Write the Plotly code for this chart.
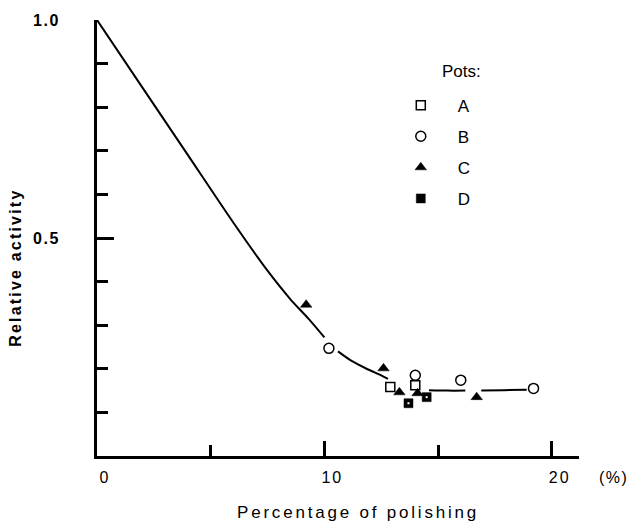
import plotly.graph_objects as go

# ---- data ----
pots_a_x = [12.9, 14.0]
pots_a_y = [0.158, 0.162]
pots_b_x = [10.2, 14.0, 16.0, 19.2]
pots_b_y = [0.247, 0.185, 0.174, 0.155]
pots_c_x = [9.2, 12.6, 13.3, 14.1, 16.7]
pots_c_y = [0.347, 0.201, 0.146, 0.144, 0.135]
pots_d_x = [13.7, 14.5]
pots_d_y = [0.121, 0.135]

# fitted curve (broken where it passes markers)
curve_x = [0, 2, 4, 6, 7.5, 8.5, 9.3, 10.0, None,
           10.6, 11.2, 11.9, 12.5, 12.8, None,
           14.6, 15.4, 16.2, None,
           16.9, 17.9, 18.9]
curve_y = [1.0, 0.845, 0.69, 0.535, 0.425, 0.36, 0.315, 0.272, None,
           0.240, 0.218, 0.199, 0.185, 0.177, None,
           0.151, 0.150, 0.150, None,
           0.150, 0.151, 0.152]

x_tickvals = [0, 10, 20]
x_ticktext = ["0", "10", "20"]
y_tickvals = [0.5, 1.0]
y_ticktext = ["0.5", "1.0"]

FONT = "Liberation Sans, Arial, Helvetica, sans-serif"

def spaced(t, px=1.5):
    return f"<span style='letter-spacing:{px}px'>{t}</span>"

fig = go.Figure()

fig.add_trace(go.Scatter(
    x=curve_x, y=curve_y, mode="lines", connectgaps=False,
    line=dict(color="black", width=2, shape="spline", smoothing=0.8),
    showlegend=False, hoverinfo="skip"))

fig.add_trace(go.Scatter(
    x=pots_a_x, y=pots_a_y, mode="markers", name="A", legendgroup="a",
    marker=dict(symbol="square", size=9, color="white",
                line=dict(color="black", width=1.5))))
fig.add_trace(go.Scatter(
    x=pots_b_x, y=pots_b_y, mode="markers", name="B", legendgroup="b",
    marker=dict(symbol="circle", size=10, color="white",
                line=dict(color="black", width=1.5))))
fig.add_trace(go.Scatter(
    x=pots_c_x, y=pots_c_y, mode="markers", name="C", legendgroup="c",
    marker=dict(symbol="triangle-up", size=10, color="black",
                line=dict(color="black", width=0.5))))
fig.add_trace(go.Scatter(
    x=pots_d_x, y=pots_d_y, mode="markers", name="D", legendgroup="d",
    marker=dict(symbol="square", size=9, color="black",
                line=dict(color="black", width=0.5))))
fig.add_trace(go.Scatter(
    x=pots_d_x, y=pots_d_y, mode="markers", showlegend=False,
    hoverinfo="skip",
    marker=dict(symbol="square", size=2, color="white")))

fig.update_layout(
    width=633, height=532,
    margin=dict(l=97, r=54, t=18, b=76),
    paper_bgcolor="white", plot_bgcolor="white",
    font=dict(family=FONT, color="black", size=16),
    showlegend=True,
    legend=dict(x=0.595, y=0.845, xanchor="left", yanchor="top",
                font=dict(size=17, family=FONT), itemwidth=64,
                tracegroupgap=6, bgcolor="rgba(0,0,0,0)",
                traceorder="grouped"),
    xaxis=dict(range=[0, 21.2], showgrid=False, zeroline=False,
               showline=True, linewidth=3, linecolor="black",
               ticks="inside", ticklen=15, tickwidth=2.5, tickcolor="black",
               tickmode="array", tickvals=x_tickvals,
               ticktext=[spaced(t, 2) for t in x_ticktext],
               tickfont=dict(size=16, family=FONT),
               ticklabelstandoff=5, ticklabelshift=8,
               minor=dict(tickmode="linear", tick0=0, dtick=5, ticks="inside",
                          ticklen=11, tickwidth=2.5, tickcolor="black")),
    yaxis=dict(range=[0, 1.0], showgrid=False, zeroline=False,
               showline=True, linewidth=3, linecolor="black",
               ticks="inside", ticklen=17, tickwidth=2.5, tickcolor="black",
               tickmode="array", tickvals=y_tickvals,
               ticktext=["<b>" + spaced(t, 1.5) + "</b>" for t in y_ticktext],
               tickfont=dict(size=16, family=FONT),
               ticklabelstandoff=31,
               minor=dict(tickmode="linear", tick0=0, dtick=0.1, ticks="inside",
                          ticklen=11, tickwidth=2.5, tickcolor="black")),
    annotations=[
        dict(text="Pots:", xref="paper", yref="paper", x=0.712, y=0.881,
             xanchor="left", yanchor="middle", showarrow=False,
             font=dict(size=17, family=FONT)),
        dict(text=spaced("(%)", 1.5), xref="paper", yref="paper",
             x=(613 - 97) / 482, y=(456 - 478) / 438,
             xanchor="center", yanchor="middle", showarrow=False,
             font=dict(size=16, family=FONT)),
        dict(text=spaced("Percentage of polishing", 2.8), xref="paper",
             yref="paper", x=(358 - 97) / 482, y=(456 - 513) / 438,
             xanchor="center", yanchor="middle", showarrow=False,
             font=dict(size=17, family=FONT)),
        dict(text="<b>" + spaced("Relative activity", 2.2) + "</b>",
             xref="paper", yref="paper", x=(16 - 97) / 482,
             y=(456 - 267) / 438, xanchor="center", yanchor="middle",
             textangle=-90, showarrow=False,
             font=dict(size=16, family=FONT)),
    ],
)

fig.write_html("out.html")
